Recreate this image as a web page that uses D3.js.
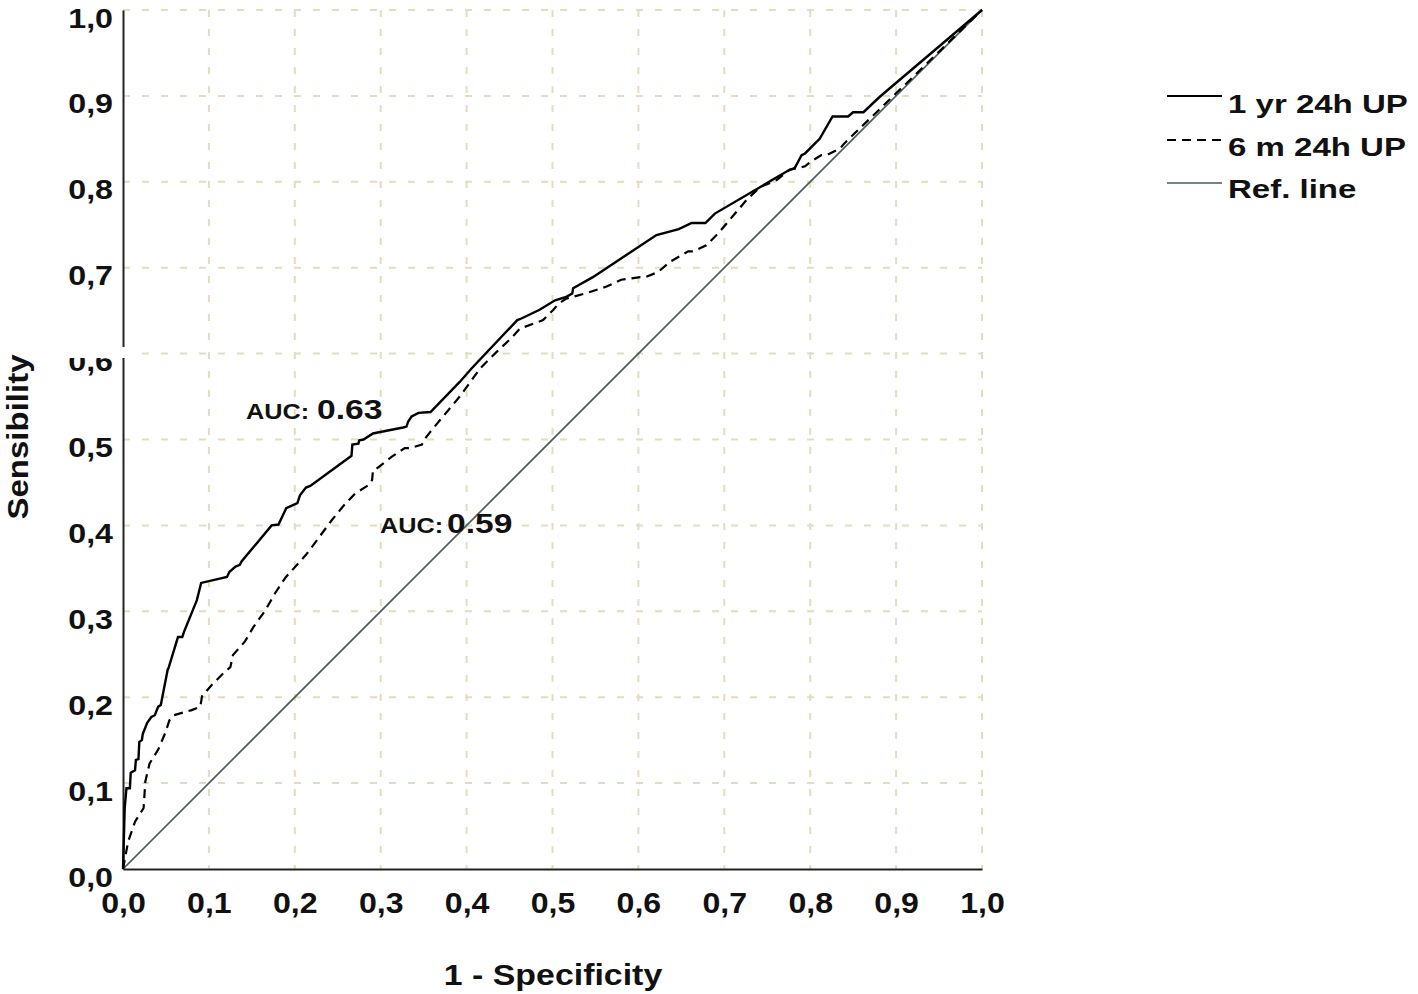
<!DOCTYPE html>
<html>
<head>
<meta charset="utf-8">
<script src="https://cdn.jsdelivr.net/npm/d3@7"></script>
<style>
  html, body { margin: 0; padding: 0; background: #fff; }
  svg { display: block; }
  text { font-family: "Liberation Sans", Arial, sans-serif; font-weight: bold; fill: #111; }
</style>
</head>
<body>
<svg id="chart" width="1418" height="994"></svg>
<script>
// ---- data ----
const fpr1 = [0,0.002,0.004,0.008,0.009,0.014,0.015,0.018,0.019,0.022,0.023,0.028,0.033,0.037,0.041,0.044,0.052,0.053,0.064,0.069,0.071,0.086,0.091,0.121,0.124,0.131,0.136,0.138,0.173,0.181,0.190,0.203,0.206,0.213,0.218,0.266,0.267,0.274,0.275,0.280,0.291,0.301,0.326,0.330,0.332,0.336,0.344,0.358,0.392,0.406,0.459,0.462,0.485,0.503,0.516,0.523,0.524,0.547,0.621,0.647,0.662,0.678,0.689,0.776,0.782,0.790,0.794,0.811,0.826,0.844,0.850,0.862,0.881,1];
const tpr1 = [0,0.071,0.094,0.094,0.112,0.115,0.127,0.128,0.148,0.150,0.157,0.170,0.177,0.179,0.189,0.191,0.232,0.234,0.270,0.270,0.276,0.313,0.333,0.340,0.346,0.352,0.354,0.358,0.400,0.401,0.420,0.426,0.435,0.444,0.446,0.481,0.494,0.495,0.499,0.500,0.507,0.509,0.514,0.515,0.521,0.527,0.531,0.532,0.567,0.583,0.639,0.640,0.651,0.662,0.666,0.670,0.676,0.689,0.738,0.745,0.752,0.752,0.763,0.814,0.816,0.831,0.833,0.850,0.876,0.876,0.881,0.881,0.899,1];
const fpr2 = [0,0.006,0.014,0.024,0.026,0.031,0.041,0.049,0.054,0.059,0.080,0.090,0.092,0.103,0.119,0.125,0.128,0.142,0.152,0.165,0.177,0.189,0.214,0.243,0.256,0.270,0.286,0.290,0.291,0.295,0.313,0.328,0.334,0.348,0.350,0.361,0.392,0.416,0.435,0.452,0.462,0.489,0.501,0.507,0.516,0.538,0.563,0.580,0.602,0.608,0.623,0.637,0.658,0.664,0.679,0.693,0.709,0.726,0.742,0.761,0.776,0.794,0.800,0.813,0.819,0.835,0.840,0.900,1];
const tpr2 = [0,0.032,0.055,0.071,0.102,0.123,0.139,0.158,0.173,0.179,0.185,0.189,0.201,0.214,0.230,0.235,0.249,0.265,0.282,0.300,0.321,0.339,0.367,0.406,0.422,0.437,0.447,0.453,0.464,0.466,0.480,0.490,0.490,0.494,0.499,0.513,0.550,0.583,0.602,0.618,0.629,0.639,0.651,0.658,0.664,0.670,0.678,0.686,0.689,0.689,0.695,0.707,0.719,0.719,0.726,0.740,0.759,0.779,0.794,0.802,0.814,0.818,0.823,0.831,0.831,0.839,0.845,0.903,1];
const refLine = [[0,0],[1,1]];
const tickValues = [0,0.1,0.2,0.3,0.4,0.5,0.6,0.7,0.8,0.9,1.0];
const tickLabels = ["0,0","0,1","0,2","0,3","0,4","0,5","0,6","0,7","0,8","0,9","1,0"];
const seriesNames = ["1 yr 24h UP","6 m 24h UP","Ref. line"];
const aucLabels = [{series:"1 yr 24h UP", auc:"0.63"},{series:"6 m 24h UP", auc:"0.59"}];

// ---- layout ----
const svg = d3.select("#chart");
const x = d3.scaleLinear().domain([0,1]).range([123,982]);
const y = d3.scaleLinear().domain([0,1]).range([869,10]);
const gridColor = "#e4dcc0";
const refColor = "#4b5a55";

function sText(parent, tx, ty, str, size, sx, anchor, rot) {
  return parent.append("text")
    .attr("transform", `translate(${tx},${ty})` + (rot ? ` rotate(${rot})` : "") + ` scale(${sx},1)`)
    .attr("text-anchor", anchor || "start")
    .style("font-size", size + "px")
    .text(str);
}

// grid
const grid = svg.append("g");
grid.selectAll("line.v").data(tickValues.slice(1)).join("line")
  .attr("x1", d => x(d)).attr("x2", d => x(d))
  .attr("y1", y(1)).attr("y2", y(0))
  .attr("stroke", gridColor).attr("stroke-width", 2).attr("stroke-dasharray", "7,12");
grid.selectAll("line.h").data(tickValues.slice(1)).join("line")
  .attr("x1", x(0)).attr("x2", x(1))
  .attr("y1", d => y(d)).attr("y2", d => y(d))
  .attr("stroke", gridColor).attr("stroke-width", 2).attr("stroke-dasharray", "7,12");

// axes (D3 axes, ticks hidden, custom labels)
const xAxis = d3.axisBottom(x).tickValues(tickValues).tickSize(0).tickFormat((d,i) => tickLabels[i]);
const yAxis = d3.axisLeft(y).tickValues(tickValues).tickSize(0).tickFormat((d,i) => tickLabels[i]);
const gx = svg.append("g").attr("transform", `translate(0,${y(0)})`).call(xAxis);
const gy = svg.append("g").attr("transform", `translate(${x(0)},0)`).call(yAxis);
gx.select(".domain").attr("stroke", "#222").attr("stroke-width", 2);
gy.select(".domain").attr("stroke", "#222").attr("stroke-width", 2);
gx.selectAll(".tick text").remove();
gy.selectAll(".tick text").remove();
gx.selectAll(".tick").each(function(d,i){
  sText(d3.select(this), 0, 44, tickLabels[i], 30, 1.07, "middle");
});
gy.selectAll(".tick").each(function(d,i){
  sText(d3.select(this), -10, 17, tickLabels[i], 28, 1.15, "end");
});

// reference line
const line = d3.line().x(d => x(d[0])).y(d => y(d[1]));
svg.append("path").datum(refLine).attr("d", line)
  .attr("fill", "none").attr("stroke", refColor).attr("stroke-width", 1.7);

// curves
svg.append("path").datum(fpr2.map((v,i) => [v, tpr2[i]])).attr("d", line)
  .attr("fill", "none").attr("stroke", "#000").attr("stroke-width", 2.2).attr("stroke-dasharray", "9,6");
svg.append("path").datum(fpr1.map((v,i) => [v, tpr1[i]])).attr("d", line)
  .attr("fill", "none").attr("stroke", "#000").attr("stroke-width", 2.4);

// artifact: break in y-axis near 0,6
svg.append("rect").attr("x", 60).attr("y", 347).attr("width", 81).attr("height", 11).attr("fill", "#fff");

// AUC labels
const auc = svg.append("g");
sText(auc, 246, 419, "AUC:", 22, 1.15, "start");
sText(auc, 317, 419, aucLabels[0].auc, 28, 1.2, "start");
sText(auc, 380, 533, "AUC:", 22, 1.15, "start");
sText(auc, 447, 533, aucLabels[1].auc, 28, 1.2, "start");

// axis titles
sText(svg, 553, 985, "1 - Specificity", 30, 1.13, "middle");
sText(svg, 28, 437, "Sensibility", 30, 1.1, "middle", -90);

// legend
const leg = svg.append("g");
const legY = [96, 140, 183];
const legBase = [113, 156, 198];
const legStyles = [
  {stroke:"#000", dash:null, w:2},
  {stroke:"#000", dash:"9,6", w:2},
  {stroke:refColor, dash:null, w:1.6}
];
seriesNames.forEach((n,i) => {
  leg.append("line").attr("x1",1167).attr("x2",1222).attr("y1",legY[i]).attr("y2",legY[i])
    .attr("stroke", legStyles[i].stroke).attr("stroke-width", legStyles[i].w)
    .attr("stroke-dasharray", legStyles[i].dash);
  sText(leg, 1228, legBase[i], n, 26, 1.27, "start");
});
</script>
</body>
</html>
